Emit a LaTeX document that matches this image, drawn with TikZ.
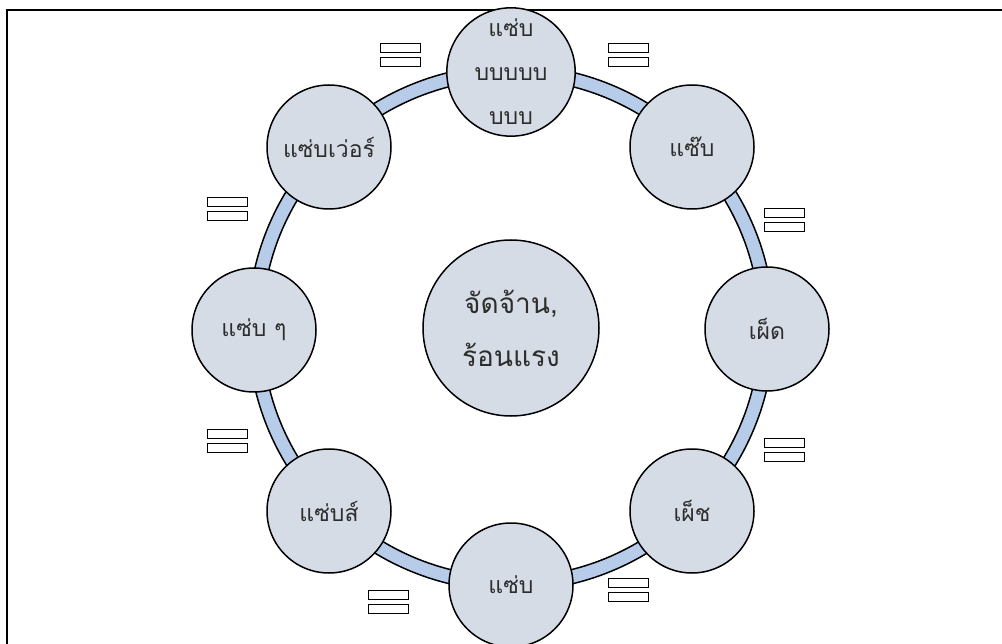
\documentclass[tikz,border=0pt]{standalone}
\usepackage{fontspec}
\newfontfamily\thaifont[Script=Thai]{Loma}
\definecolor{bubblefill}{RGB}{214,220,229}
\definecolor{ringblue}{RGB}{182,204,232}
\definecolor{inktext}{RGB}{45,45,45}
% two stacked boxes between the bubbles
\newcommand{\twobars}[2]{%
	\draw[line width=1pt] (#1-20,#2-12) rectangle (#1+20,#2-3);
	\draw[line width=1pt] (#1-20,#2+2) rectangle (#1+20,#2+11);}

\begin{document}
\begin{tikzpicture}[x=1pt, y=-1pt,
	bubble/.style={circle, draw, line width=1.5pt, fill=bubblefill, minimum size=124pt, inner sep=0pt,
		text=inktext, align=center, font=\thaifont\fontsize{23}{44}\selectfont},
	hub/.style={bubble, minimum size=176pt, font=\thaifont\fontsize{28}{53}\selectfont}]
	\useasboundingbox (0,0) rectangle (1002,644);

	\draw[line width=2pt] (7,644) -- (7,10) -- (1002,10);

	% ring
	\fill[ringblue, even odd rule] (511,328) circle (263) (511,328) circle (249);
	\draw[line width=1.5pt] (511,328) circle (263);
	\draw[line width=1.5pt] (511,328) circle (249);

	\node[hub] (hot) at (511,328) {จัดจ้าน,\\ร้อนแรง};

	\node[bubble] (top) at (511,72) {แซ่บ\\บบบบบ\\บบบ};
	\node[bubble] (topright) at (692,147) {แซ๊บ};
	\node[bubble] (right) at (767,329) {เผ็ด};
	\node[bubble] (botright) at (692,511) {เผ็ช};
	\node[bubble] (bottom) at (511,585) {แซ่บ};
	\node[bubble] (botleft) at (329,511) {แซ่บส์};
	\node[bubble] (left) at (254,330) {แซ่บ ๆ};
	\node[bubble] (topleft) at (329,147) {แซ่บเว่อร์};

	\twobars{400}{56}
	\twobars{628}{56}
	\twobars{784}{221}
	\twobars{784}{450}
	\twobars{628}{590}
	\twobars{388}{602}
	\twobars{227}{441}
	\twobars{227}{210}
\end{tikzpicture}
\end{document}
